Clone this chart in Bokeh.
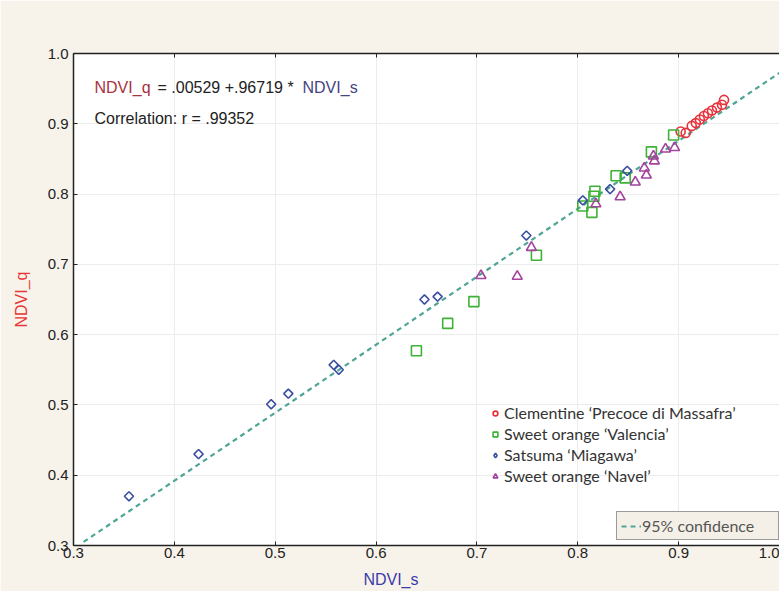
import math
from bokeh.plotting import figure
from bokeh.models import (Legend, LegendItem, Label, FixedTicker, LinearAxis,
                          CustomJSTickFormatter)
from bokeh.embed import file_html
from bokeh.resources import INLINE

# ---------------- data ----------------
clem_x = [0.902, 0.907, 0.913, 0.917, 0.921, 0.925, 0.929, 0.933, 0.938, 0.943, 0.945]
clem_y = [0.889, 0.887, 0.897, 0.901, 0.906, 0.911, 0.915, 0.919, 0.923, 0.927, 0.934]

val_x = [0.640, 0.671, 0.697, 0.759, 0.814, 0.805, 0.816, 0.817, 0.838, 0.847, 0.873, 0.895]
val_y = [0.577, 0.616, 0.647, 0.713, 0.774, 0.783, 0.797, 0.804, 0.826, 0.823, 0.860, 0.884]

sat_x = [0.355, 0.424, 0.496, 0.513, 0.558, 0.563, 0.648, 0.661, 0.749, 0.805, 0.832, 0.849]
sat_y = [0.370, 0.430, 0.501, 0.516, 0.557, 0.550, 0.650, 0.654, 0.741, 0.791, 0.807, 0.833]

nav_x = [0.704, 0.740, 0.754, 0.818, 0.842, 0.857, 0.866, 0.868, 0.875, 0.876, 0.887, 0.896]
nav_y = [0.684, 0.683, 0.724, 0.786, 0.796, 0.817, 0.837, 0.827, 0.854, 0.847, 0.864, 0.866]

intercept = 0.00529
slope = 0.96719
fit_x = [0.31, 1.0]

ticks = [0.3, 0.4, 0.5, 0.6, 0.7, 0.8, 0.9, 1.0]

series_names = ["Clementine \u2018Precoce di Massafra\u2019",
                "Sweet orange \u2018Valencia\u2019",
                "Satsuma \u2018Miagawa\u2019",
                "Sweet orange \u2018Navel\u2019"]

# ---------------- figure ----------------
BG = "#f7f3eb"
p = figure(width=779, height=591, x_range=(0.3, 1.0), y_range=(0.3, 1.0),
           output_backend="svg", toolbar_location=None,
           min_border_left=73, min_border_right=0, min_border_top=53,
           min_border_bottom=46)
p.border_fill_color = BG
p.background_fill_color = "white"
p.outline_line_color = None

fmt = CustomJSTickFormatter(code="return tick.toFixed(1);")
for ax in (p.xaxis[0], p.yaxis[0]):
    ax.ticker = FixedTicker(ticks=ticks)
    ax.formatter = fmt
    ax.axis_line_color = "#222222"
    ax.axis_line_width = 1.5
    ax.major_tick_in = 4
    ax.major_tick_out = 0
    ax.major_tick_line_color = "#222222"
    ax.minor_tick_line_color = None
    ax.major_label_text_font = "Liberation Sans"
    ax.major_label_text_font_size = "15px"
    ax.major_label_text_color = "#222222"
    ax.axis_label_text_font = "Liberation Sans"
    ax.axis_label_text_font_style = "normal"
    ax.axis_label_text_font_size = "16px"

p.xaxis.major_label_standoff = 2
p.xaxis.axis_label = "NDVI_s" + "\u00a0" * 16
p.xaxis.axis_label_text_color = "#3a3aaa"
p.xaxis.axis_label_standoff = 10
p.yaxis.axis_label = "NDVI_q"
p.yaxis.axis_label_text_color = "#e83535"
p.yaxis.major_label_standoff = 5
p.yaxis.axis_label_standoff = 15

top = LinearAxis(ticker=FixedTicker(ticks=ticks), axis_line_color="#222222",
                 axis_line_width=1.5, major_tick_in=4, major_tick_out=0,
                 major_tick_line_color="#222222", minor_tick_line_color=None,
                 major_label_text_font_size="0px")
p.add_layout(top, "above")

p.xgrid.ticker = FixedTicker(ticks=ticks)
p.ygrid.ticker = FixedTicker(ticks=ticks)
p.grid.grid_line_color = "#ececec"
p.grid.grid_line_width = 1

# regression line
fit_y = [intercept + slope * v for v in fit_x]
fit = p.line(fit_x, fit_y, line_color="#4fa595", line_width=2.2, line_dash="5 4")

# scatter series
r_clem = p.scatter(clem_x, clem_y, marker="circle", size=9, fill_color=None,
                   line_color="#e8313b", line_width=1.6)
r_val = p.scatter(val_x, val_y, marker="square", size=10, fill_color=None,
                  line_color="#3db236", line_width=1.6)
r_sat = p.scatter(sat_x, sat_y, marker="square", angle=math.pi / 4, size=6.5,
                  fill_color=None, line_color="#3b4fa0", line_width=1.6)
r_nav = p.scatter(nav_x, nav_y, marker="triangle", size=10, fill_color=None,
                  line_color="#a3439f", line_width=1.6)
# hidden renderer, only used to draw the diamond symbol in the legend
r_sat_key = p.scatter(sat_x, sat_y, marker="diamond", size=11, fill_color=None,
                      line_color="#3b4fa0", line_width=1.6, visible=False)

legend = Legend(items=[LegendItem(label=series_names[0], renderers=[r_clem]),
                       LegendItem(label=series_names[1], renderers=[r_val]),
                       LegendItem(label=series_names[2], renderers=[r_sat_key]),
                       LegendItem(label=series_names[3], renderers=[r_nav])],
                location=(416, 59), background_fill_alpha=0,
                border_line_color=None, padding=0, margin=0, spacing=0,
                label_height=21, glyph_height=14, glyph_width=12,
                label_standoff=3, label_text_font="Lato",
                label_text_font_size="16px", label_text_color="#333333")
p.add_layout(legend)

legend2 = Legend(items=[LegendItem(label="95% confidence", renderers=[fit])],
                 location=(543, 5), background_fill_color="#f4f0e8",
                 background_fill_alpha=1, border_line_color="#444444",
                 border_line_width=1.5, padding=4, margin=0, spacing=0,
                 label_height=18, glyph_height=18, glyph_width=20,
                 label_standoff=1, label_width=132, label_text_font="Lato",
                 label_text_font_size="16px", label_text_color="#555555")
p.add_layout(legend2)

# annotation text
eq_y = 0.939
p.add_layout(Label(x=0.3, y=eq_y, x_offset=21, text="NDVI_q", text_font="Liberation Sans",
                   text_font_size="16px", text_color="#a8323e"))
p.add_layout(Label(x=0.3, y=eq_y, x_offset=84, text="= .00529 +.96719 *",
                   text_font="Liberation Sans", text_font_size="16px", text_color="#222222"))
p.add_layout(Label(x=0.3, y=eq_y, x_offset=229, text="NDVI_s", text_font="Liberation Sans",
                   text_font_size="16px", text_color="#45457f"))
p.add_layout(Label(x=0.3, y=0.895, x_offset=21, text="Correlation: r = .99352",
                   text_font="Liberation Sans", text_font_size="16px", text_color="#222222"))

open("out.html", "w").write(file_html(p, INLINE))
